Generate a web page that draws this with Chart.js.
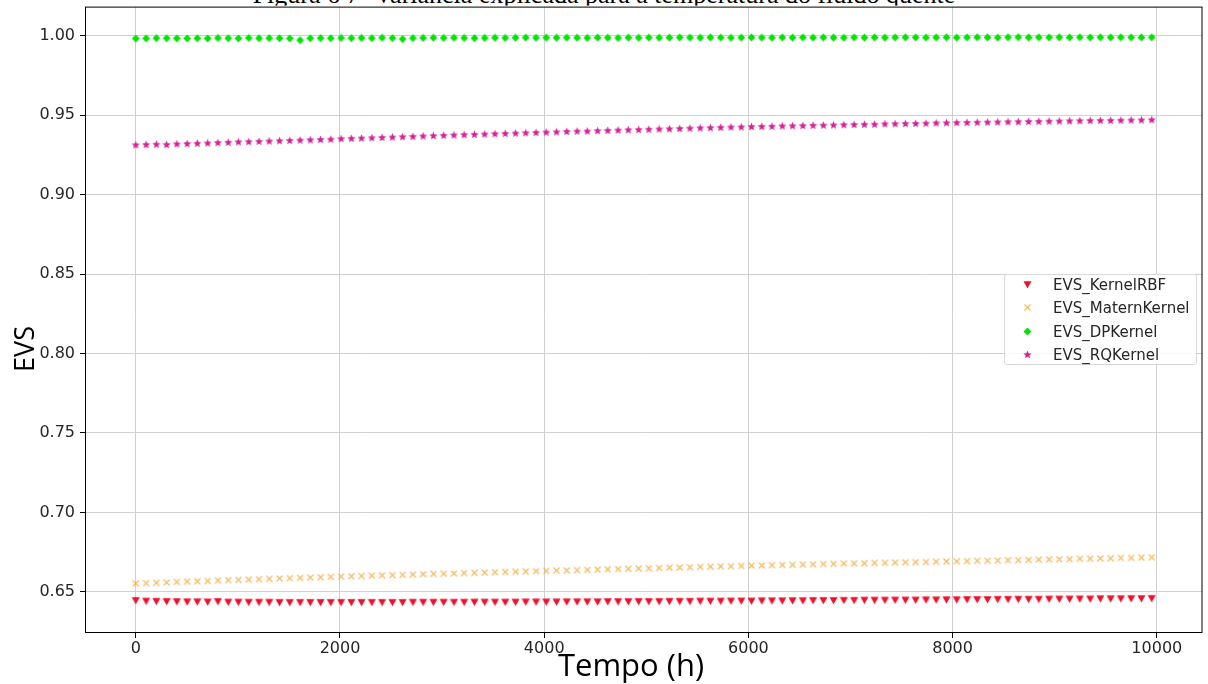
<!DOCTYPE html>
<html>
<head>
<meta charset="utf-8">
<script src="https://cdn.jsdelivr.net/npm/chart.js@4.4.0/dist/chart.umd.min.js"></script>
<style>
    html, body { margin: 0; padding: 0; background: #fff; }
    #wrap { position: relative; width: 1208px; height: 684px; overflow: hidden; }
    #figTitle {
        position: absolute; left: 0; top: -18px; width: 1208px;
        text-align: center; white-space: nowrap;
        font-family: "Liberation Serif", serif; font-size: 26px; line-height: 26px; color: #000;
        z-index: 0;
    }
    #myChart { position: absolute; left: 0; top: -8px; z-index: 1; }
    #xTitle {
        position: absolute; left: 431px; top: 646px; width: 400px; text-align: center;
        font-family: "Open Sans", sans-serif; font-size: 31px; line-height: 36px; color: #000;
        z-index: 2;
    }
    #yTitle {
        position: absolute; left: -26px; top: 333px; width: 100px; height: 32px; text-align: center;
        font-family: "Open Sans", sans-serif; font-size: 27px; line-height: 32px; color: #000;
        transform: rotate(-90deg); transform-origin: 50% 50%;
        z-index: 2;
    }
    #legendBox {
        position: absolute; left: 1004px; top: 274px; width: 193px; height: 91px;
        border: 1px solid #d9d9d9; border-radius: 3px; background: rgba(255,255,255,0.85);
        z-index: 2; box-sizing: border-box;
    }
    .legend-row { position: absolute; left: 0; height: 20px; width: 100%; }
    .legend-row canvas { position: absolute; left: 18px; top: 5px; }
    .legend-row span {
        position: absolute; left: 48px; top: 0; line-height: 20px;
        font-family: "DejaVu Sans", sans-serif; font-size: 15px; color: #262626;
    }
</style>
</head>
<body>
<div id="wrap">
    <div id="figTitle">Figura 6 7- Variância explicada para a temperatura do fluido quente</div>
    <canvas id="myChart" width="1208" height="692"></canvas>
    <div id="xTitle">Tempo (h)</div>
    <div id="yTitle">EVS</div>
    <div id="legendBox"></div>
</div>
<script>
// 時間 (h)
const tempoH = [
    0, 101, 201, 302, 402, 503, 603, 704, 804, 905,
    1005, 1106, 1207, 1307, 1408, 1508, 1609, 1709, 1810, 1910,
    2011, 2111, 2211, 2312, 2412, 2513, 2613, 2714, 2814, 2915,
    3015, 3116, 3216, 3317, 3417, 3518, 3618, 3719, 3819, 3920,
    4020, 4121, 4221, 4322, 4422, 4523, 4623, 4724, 4824, 4925,
    5025, 5126, 5226, 5327, 5427, 5528, 5628, 5729, 5829, 5930,
    6030, 6131, 6231, 6332, 6432, 6533, 6633, 6734, 6834, 6935,
    7035, 7136, 7236, 7337, 7437, 7538, 7638, 7739, 7839, 7940,
    8040, 8141, 8241, 8342, 8442, 8543, 8643, 8744, 8844, 8945,
    9045, 9146, 9246, 9347, 9447, 9548, 9648, 9749, 9849, 9950
];

const evsKernelRBF = [
    0.6446, 0.6442, 0.6441, 0.6440, 0.6439, 0.6438, 0.6438, 0.6437, 0.6440, 0.6436,
    0.6436, 0.6435, 0.6435, 0.6435, 0.6434, 0.6434, 0.6434, 0.6434, 0.6434, 0.6434,
    0.6434, 0.6434, 0.6434, 0.6434, 0.6434, 0.6434, 0.6434, 0.6435, 0.6435, 0.6435,
    0.6435, 0.6435, 0.6435, 0.6436, 0.6436, 0.6436, 0.6436, 0.6436, 0.6437, 0.6437,
    0.6437, 0.6437, 0.6438, 0.6438, 0.6438, 0.6438, 0.6439, 0.6439, 0.6439, 0.6440,
    0.6440, 0.6440, 0.6441, 0.6441, 0.6441, 0.6442, 0.6442, 0.6442, 0.6443, 0.6443,
    0.6443, 0.6444, 0.6444, 0.6444, 0.6445, 0.6445, 0.6446, 0.6446, 0.6446, 0.6447,
    0.6447, 0.6448, 0.6448, 0.6448, 0.6449, 0.6449, 0.6449, 0.6450, 0.6450, 0.6451,
    0.6451, 0.6452, 0.6452, 0.6452, 0.6453, 0.6453, 0.6454, 0.6454, 0.6454, 0.6455,
    0.6455, 0.6455, 0.6456, 0.6456, 0.6457, 0.6457, 0.6457, 0.6458, 0.6458, 0.6459
];

const evsMaternKernel = [
    0.6553, 0.6555, 0.6557, 0.6559, 0.6562, 0.6564, 0.6566, 0.6568, 0.6571, 0.6573,
    0.6575, 0.6577, 0.6579, 0.6582, 0.6584, 0.6586, 0.6588, 0.6590, 0.6592, 0.6594,
    0.6596, 0.6598, 0.6600, 0.6602, 0.6604, 0.6605, 0.6607, 0.6609, 0.6611, 0.6613,
    0.6614, 0.6616, 0.6618, 0.6620, 0.6622, 0.6623, 0.6625, 0.6627, 0.6629, 0.6630,
    0.6632, 0.6634, 0.6635, 0.6637, 0.6638, 0.6640, 0.6642, 0.6643, 0.6645, 0.6647,
    0.6648, 0.6650, 0.6652, 0.6653, 0.6655, 0.6657, 0.6658, 0.6660, 0.6661, 0.6663,
    0.6665, 0.6666, 0.6668, 0.6669, 0.6670, 0.6672, 0.6673, 0.6675, 0.6676, 0.6678,
    0.6679, 0.6680, 0.6682, 0.6683, 0.6684, 0.6686, 0.6687, 0.6688, 0.6690, 0.6691,
    0.6692, 0.6693, 0.6695, 0.6696, 0.6697, 0.6699, 0.6700, 0.6701, 0.6703, 0.6704,
    0.6705, 0.6706, 0.6708, 0.6709, 0.6710, 0.6711, 0.6713, 0.6714, 0.6715, 0.6717
];

const evsDPKernel = [
    0.9982, 0.9983, 0.9985, 0.9984, 0.9983, 0.9983, 0.9984, 0.9983, 0.9986, 0.9984,
    0.9983, 0.9986, 0.9984, 0.9985, 0.9984, 0.9983, 0.9972, 0.9984, 0.9985, 0.9984,
    0.9986, 0.9985, 0.9986, 0.9985, 0.9987, 0.9985, 0.9979, 0.9985, 0.9986, 0.9987,
    0.9986, 0.9987, 0.9986, 0.9985, 0.9986, 0.9987, 0.9986, 0.9987, 0.9988, 0.9987,
    0.9988, 0.9987, 0.9988, 0.9987, 0.9986, 0.9988, 0.9987, 0.9986, 0.9988, 0.9987,
    0.9988, 0.9987, 0.9988, 0.9989, 0.9988, 0.9987, 0.9989, 0.9988, 0.9987, 0.9988,
    0.9989, 0.9988, 0.9987, 0.9989, 0.9988, 0.9989, 0.9988, 0.9989, 0.9988, 0.9987,
    0.9989, 0.9988, 0.9989, 0.9988, 0.9989, 0.9990, 0.9989, 0.9988, 0.9989, 0.9990,
    0.9988, 0.9989, 0.9990, 0.9989, 0.9988, 0.9990, 0.9991, 0.9989, 0.9990, 0.9989,
    0.9990, 0.9989, 0.9990, 0.9989, 0.9990, 0.9989, 0.9990, 0.9989, 0.9989, 0.9990
];

const evsRQKernel = [
    0.9313, 0.9315, 0.9317, 0.9315, 0.9319, 0.9321, 0.9323, 0.9325, 0.9327, 0.9329,
    0.9332, 0.9333, 0.9335, 0.9337, 0.9339, 0.9341, 0.9343, 0.9345, 0.9347, 0.9349,
    0.9352, 0.9354, 0.9356, 0.9358, 0.9360, 0.9362, 0.9364, 0.9366, 0.9369, 0.9371,
    0.9373, 0.9375, 0.9377, 0.9379, 0.9381, 0.9383, 0.9385, 0.9387, 0.9389, 0.9391,
    0.9393, 0.9395, 0.9397, 0.9399, 0.9400, 0.9402, 0.9404, 0.9406, 0.9408, 0.9409,
    0.9411, 0.9413, 0.9414, 0.9416, 0.9418, 0.9420, 0.9421, 0.9423, 0.9425, 0.9426,
    0.9428, 0.9429, 0.9430, 0.9432, 0.9433, 0.9434, 0.9436, 0.9437, 0.9438, 0.9440,
    0.9441, 0.9442, 0.9443, 0.9445, 0.9446, 0.9447, 0.9448, 0.9449, 0.9451, 0.9452,
    0.9453, 0.9454, 0.9455, 0.9456, 0.9457, 0.9458, 0.9459, 0.9460, 0.9461, 0.9462,
    0.9463, 0.9464, 0.9465, 0.9466, 0.9467, 0.9467, 0.9468, 0.9469, 0.9470, 0.9471
];

const seriesNames = ['EVS_KernelRBF', 'EVS_MaternKernel', 'EVS_DPKernel', 'EVS_RQKernel'];
const xTicks = [0, 2000, 4000, 6000, 8000, 10000];
const yTicks = [0.65, 0.70, 0.75, 0.80, 0.85, 0.90, 0.95, 1.00];

// 畫小的標記圖 (matplotlib 風格)
function makeMarker(kind, color) {
    const c = document.createElement('canvas');
    c.width = 9;
    c.height = 9;
    const g = c.getContext('2d');
    g.fillStyle = color;
    g.strokeStyle = color;
    g.beginPath();
    if (kind === 'tri') {
        g.moveTo(0.5, 1.2);
        g.lineTo(8.5, 1.2);
        g.lineTo(4.5, 8.4);
        g.closePath();
        g.fill();
    } else if (kind === 'diamond') {
        g.moveTo(4.5, 0.4);
        g.lineTo(8.4, 4.5);
        g.lineTo(4.5, 8.6);
        g.lineTo(0.6, 4.5);
        g.closePath();
        g.fill();
    } else if (kind === 'star') {
        for (let i = 0; i < 10; i++) {
            const r = (i % 2 === 0) ? 4.3 : 1.9;
            const a = -Math.PI / 2 + i * Math.PI / 5;
            const px = 4.5 + r * Math.cos(a);
            const py = 4.8 + r * Math.sin(a);
            if (i === 0) g.moveTo(px, py); else g.lineTo(px, py);
        }
        g.closePath();
        g.fill();
    } else if (kind === 'x') {
        g.lineWidth = 1.3;
        g.moveTo(1.5, 1.5); g.lineTo(7.5, 7.5);
        g.moveTo(7.5, 1.5); g.lineTo(1.5, 7.5);
        g.stroke();
    }
    return c;
}

const seriesStyle = [
    { kind: 'tri', color: '#f0102c' },
    { kind: 'x', color: 'rgba(244,170,60,0.8)' },
    { kind: 'diamond', color: '#00e600' },
    { kind: 'star', color: '#d4239a' }
];
const seriesValues = [evsKernelRBF, evsMaternKernel, evsDPKernel, evsRQKernel];

const datasets = seriesNames.map((name, k) => ({
    label: name,
    data: tempoH.map((t, i) => ({ x: t, y: seriesValues[k][i] })),
    pointStyle: makeMarker(seriesStyle[k].kind, seriesStyle[k].color),
    pointRadius: 4.5,
    showLine: false
}));

// 外框 (四邊) + 白底
const framePlugin = {
    id: 'frame',
    beforeDraw(chart) {
        const { ctx, chartArea } = chart;
        ctx.save();
        ctx.fillStyle = '#fff';
        ctx.fillRect(0, chartArea.top - 1, chart.width, chart.height);
        ctx.restore();
    },
    afterDraw(chart) {
        const { ctx, chartArea } = chart;
        ctx.save();
        ctx.strokeStyle = '#000';
        ctx.lineWidth = 1;
        ctx.strokeRect(chartArea.left + 0.5, chartArea.top + 0.5,
            chartArea.right - chartArea.left - 1, chartArea.bottom - chartArea.top - 1);
        ctx.restore();
    }
};

new Chart(document.getElementById('myChart'), {
    type: 'scatter',
    data: { datasets: datasets },
    plugins: [framePlugin],
    options: {
        responsive: false,
        animation: false,
        devicePixelRatio: 1,
        layout: { padding: { top: 7, right: 2, left: 0, bottom: 0 } },
        plugins: {
            legend: { display: false },
            tooltip: { enabled: false }
        },
        scales: {
            x: {
                type: 'linear',
                min: -497.5,
                max: 10447.5,
                afterBuildTicks: (scale) => { scale.ticks = xTicks.map(v => ({ value: v })); },
                afterFit: (scale) => { scale.height = 51; },
                border: { display: false },
                grid: { color: '#d0d0d0', lineWidth: 1, tickColor: '#000', tickLength: 5 },
                ticks: {
                    padding: 1,
                    color: '#262626',
                    font: { family: 'DejaVu Sans', size: 16 },
                    callback: (v) => String(v)
                },
                title: { display: false }
            },
            y: {
                type: 'linear',
                min: 0.6241,
                max: 1.0183,
                afterBuildTicks: (scale) => { scale.ticks = yTicks.map(v => ({ value: v })); },
                afterFit: (scale) => { scale.width = 85; },
                border: { display: false },
                grid: { color: '#d0d0d0', lineWidth: 1, tickColor: '#000', tickLength: 5 },
                ticks: {
                    padding: 5,
                    color: '#262626',
                    font: { family: 'DejaVu Sans', size: 16 },
                    callback: (v) => Number(v).toFixed(2)
                },
                title: { display: false }
            }
        }
    }
});

// 圖例 (放在右側中間)
const legendBox = document.getElementById('legendBox');
seriesNames.forEach((name, k) => {
    const row = document.createElement('div');
    row.className = 'legend-row';
    row.style.top = (k * 23.4) + 'px';
    row.appendChild(makeMarker(seriesStyle[k].kind, seriesStyle[k].color));
    const label = document.createElement('span');
    label.textContent = name;
    row.appendChild(label);
    legendBox.appendChild(row);
});
</script>
</body>
</html>
